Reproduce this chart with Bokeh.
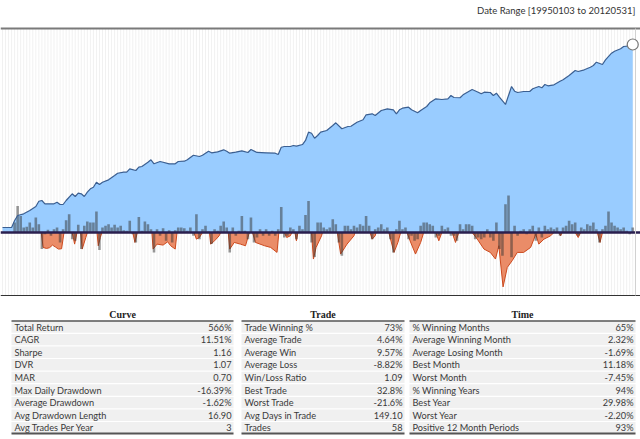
from bokeh.plotting import figure
from bokeh.models import Range1d, LinearScale
from bokeh.layouts import column
from bokeh.core.properties import value
from bokeh.embed import file_html
from bokeh.resources import INLINE

# ---------------- data ----------------
DATE_RANGE = "Date Range [19950103 to 20120531]"

# month index 0 = Jan 1995 ... 208 = May 2012
months = list(range(209))

# equity curve (growth of 1), read at selected months
eq_m = [0, 3, 4, 5, 7, 9, 11, 12, 13, 14,
        17, 18, 19, 20, 21, 23, 24, 25, 26, 27,
        28, 29, 30, 31, 32, 33, 35, 37, 38, 40,
        41, 42, 44, 45, 46, 48, 49, 50, 52, 53,
        55, 57, 58, 60, 61, 63, 65, 66, 68, 69,
        71, 73, 74, 75, 77, 79, 81, 82, 84, 87,
        90, 91, 92, 93, 95, 96, 97, 99, 100, 101,
        102, 103, 104, 105, 107, 109, 110, 112, 114, 115,
        117, 119, 120, 122, 123, 125, 127, 129, 130, 131,
        132, 134, 135, 137, 138, 140, 141, 143, 145, 147,
        148, 149, 151, 152, 155, 157, 158, 159, 161, 162,
        163, 164, 166, 167, 168, 169, 170, 172, 174, 175,
        177, 178, 179, 180, 182, 184, 185, 187, 189, 190,
        192, 194, 195, 196, 198, 199, 201, 202, 204, 205,
        207, 208]
eq_v = [1.00, 1.00, 1.075, 1.132, 1.152, 1.193, 1.243, 1.313, 1.323, 1.278,
        1.278, 1.300, 1.269, 1.269, 1.323, 1.418, 1.379, 1.427, 1.418, 1.379,
        1.442, 1.493, 1.518, 1.599, 1.561, 1.599, 1.639, 1.714, 1.755, 1.774,
        1.774, 1.837, 1.805, 1.868, 1.882, 1.967, 2.017, 1.935, 1.982, 1.967,
        1.935, 1.935, 1.982, 1.988, 2.017, 2.115, 2.087, 2.115, 2.205, 2.168,
        2.191, 2.237, 2.205, 2.160, 2.182, 2.214, 2.176, 2.244, 2.176, 2.168,
        2.160, 2.131, 2.298, 2.315, 2.315, 2.339, 2.323, 2.363, 2.464, 2.685,
        2.657, 2.523, 2.594, 2.685, 2.732, 2.878, 2.959, 2.781, 2.848, 2.856,
        2.978, 3.053, 3.215, 3.249, 3.192, 3.362, 3.421, 3.386, 3.249, 3.386,
        3.443, 3.479, 3.386, 3.283, 3.362, 3.504, 3.641, 3.795, 3.767, 3.795,
        3.927, 3.846, 3.836, 3.955, 4.179, 4.064, 3.996, 4.064, 4.051, 3.927,
        4.022, 3.858, 3.578, 3.927, 4.311, 4.106, 4.051, 4.093, 4.093, 4.209,
        4.311, 4.254, 4.401, 4.342, 4.387, 4.554, 4.621, 4.831, 5.088, 5.037,
        5.125, 5.265, 5.360, 5.546, 5.414, 5.684, 6.087, 6.215, 6.372, 6.526,
        6.572, 6.66]

# monthly returns, %
monthly_ret = [
    0, 0, 0, 0, 3.0, 8.0, 5.0, 1.5, 1.7, 3.0,
    1.5, 4.5, 2.5, -5.0, -0.5, 0.8, -1.0, 1.0, 1.5, -3.0,
    1.0, 3.7, 5.5, -2.0, -2.5, 2.3, -5.0, 2.0, 3.3, 3.0,
    3.0, 6.3, -5.3, 1.5, 2.0, 2.5, 1.5, 2.3, 1.5, 2.0,
    0.7, 0.5, 3.5, -0.5, -3.0, 4.7, 0.5, 3.3, 2.5, 1.0,
    -6.0, 1.0, -1.0, 1.3, -2.5, 0.7, -3.0, 0.7, 1.5, 1.5,
    1.3, 0.5, 1.5, -1.0, 5.5, -2.0, 1.0, 2.0, 0.3, -3.5,
    1.0, 0.5, 2.0, 3.3, 1.5, -6.0, 1.5, -1.0, 0.5, 5.0,
    0.5, -2.0, 4.5, -3.0, -1.5, 1.0, -1.0, 1.0, -1.0, 0.5,
    -1.0, 1.0, 7.7, -1.5, -1.0, 1.5, 1.0, -2.0, 2.0, 1.0,
    5.3, 9.5, -3.0, -7.4, 3.0, 3.0, 1.5, 1.0, 1.5, 4.0,
    2.5, -3.0, -7.0, 2.0, 2.0, 1.0, 2.0, 1.5, 2.5, 2.0,
    5.0, 2.0, -2.0, 1.0, 1.5, 2.5, 1.0, 1.5, -2.0, -6.0,
    1.0, 3.5, 1.0, 1.5, -2.0, -1.0, -2.5, -2.0, 2.0, 3.0,
    3.0, 2.5, 2.0, -1.5, -1.0, 2.0, 1.0, 1.5, -1.0, -1.0,
    -2.5, 2.5, 1.0, 2.5, 2.5, 2.0, -2.0, -1.5, -2.0, -1.5,
    1.0, -1.5, -2.5, 3.0, -5.0, -7.0, 8.5, 11.18, -7.45, 2.0,
    -1.0, 0.5, 1.0, -0.5, 1.0, 2.0, -2.5, 1.5, -1.5, 2.0,
    1.0, 1.5, 1.0, 1.5, -1.0, 1.5, 2.0, 3.5, 2.5, 3.0,
    -1.0, 1.5, 1.0, 2.5, 2.0, 3.0, 1.0, -3.0, 1.0, 2.0,
    6.3, 3.0, 2.0, 1.5, 1.0, 1.5, 0.5, -0.5, 1.5]

# drawdown, %
dd_m = [0, 12.8, 13.4, 14.5, 15.5, 16.5, 17.5, 18.5, 19.5, 20.3,
        23, 23.8, 24.6,
        25.8, 26.3, 27.5, 28,
        31.2, 31.6, 32.3, 32.8,
        43, 43.7, 44.5,
        49.3, 49.7, 51, 53, 54.5, 55.5, 57, 57.6,
        63.2, 64, 65, 66,
        68.3, 68.7, 70, 71.5, 72,
        74.5, 75, 76.5, 78.5, 80.2, 81.3, 81.6,
        82.5, 83.5, 86.5, 88.5, 90.6, 91.2,
        93, 93.8, 95, 95.5,
        96.5, 97, 97.5,
        102, 102.6, 103.5, 105.3, 105.6,
        110.5, 111.6, 113.7, 116, 116.3,
        121.3, 122, 123, 123.3,
        127.5, 129.2, 130.5, 131.4,
        133.5, 134.5, 136.3, 138, 139,
        143, 144, 145,
        148.4, 149.5, 150.6,
        155, 156.7, 158.9, 161, 162.7, 163.8, 165.2, 166.6, 168.2, 169.9,
        172, 174.3, 176, 177, 178.7, 180.9, 182,
        183.6, 184.2, 184.7,
        189, 190, 190.8,
        196.3, 197.2, 198,
        208]
dd_v = [0, 0, -4.5, -4.8, -4.6, -3.8, -4.4, -5.0, -4.9, 0,
        0, -3.5, 0,
        0, -5.0, -1.5, 0,
        0, -4.0, -1.5, 0,
        0, -3.0, 0,
        0, -5.0, -3.5, -3.8, -2.8, -4.0, -5.0, 0,
        0, -2.0, -1.5, 0,
        0, -3.5, -2.5, -1.0, 0,
        0, -5.0, -3.0, -3.5, -4.0, -0.5, 0,
        0, -3.0, -4.0, -4.5, -6.0, 0,
        0, -1.5, -1.0, 0,
        0, -2.5, 0,
        0, -8.0, -4.5, -1.0, 0,
        0, -6.5, -3.5, -1.0, 0,
        0, -2.0, -1.0, 0,
        0, -6.0, -3.0, 0,
        0, -2.5, -6.5, -3.0, 0,
        0, -2.5, 0,
        0, -3.0, 0,
        0, -2.0, -5.0, -6.0, -8.0, -4.0, -16.39, -10.5, -8.5, -6.0,
        -6.0, -4.5, -0.5, -3.5, -2.0, -1.0, 0,
        0, -1.0, 0,
        0, -1.5, 0,
        0, -3.0, 0,
        0]

curve_title = "Curve"
curve_labels = ["Total Return", "CAGR", "Sharpe", "DVR", "MAR", "Max Daily Drawdown",
                "Average Drawdown", "Avg Drawdown Length", "Avg Trades Per Year"]
curve_values = ["566%", "11.51%", "1.16", "1.07", "0.70", "-16.39%", "-1.62%", "16.90", "3"]
trade_title = "Trade"
trade_labels = ["Trade Winning %", "Average Trade", "Average Win", "Average Loss",
                "Win/Loss Ratio", "Best Trade", "Worst Trade", "Avg Days in Trade", "Trades"]
trade_values = ["73%", "4.64%", "9.57%", "-8.82%", "1.09", "32.8%", "-21.6%", "149.10", "58"]
time_title = "Time"
time_labels = ["% Winning Months", "Average Winning Month", "Average Losing Month", "Best Month",
               "Worst Month", "% Winning Years", "Best Year", "Worst Year",
               "Positive 12 Month Periods"]
time_values = ["65%", "2.32%", "-1.69%", "11.18%", "-7.45%", "94%", "29.98%", "-2.20%", "93%"]

# ---------------- style / layout ----------------
W = 640
FONT = value("Lato")
EQ_BASE = 0.9495      # equity level drawn at the zero-return line
TOP_LINE = 61.45      # return-axis level of the frame's top rule
BOT_LINE = -18.98     # return-axis level of the frame's bottom rule
X_EDGE = 208.9

p = figure(width=W, height=296, output_backend="svg", toolbar_location=None,
           x_range=Range1d(-0.66, 210.56), y_range=Range1d(0.4892, 10.51),
           y_axis_type="log", x_axis_location=None, y_axis_location=None,
           min_border=0, min_border_left=0, min_border_right=0,
           min_border_top=0, min_border_bottom=0)
p.extra_y_ranges = {"ret": Range1d(-19.28, 69.88)}
p.extra_y_scales = {"ret": LinearScale()}
p.xgrid.visible = False
p.ygrid.visible = False
p.outline_line_color = None
p.background_fill_color = "white"
p.border_fill_color = "white"

# background stripes (one per month)
p.vbar(x=months, width=0.32, bottom=BOT_LINE, top=TOP_LINE, y_range_name="ret",
       fill_color="#f1f1f1", line_color=None)

# equity area
p.varea(x=eq_m, y1=EQ_BASE, y2=eq_v, fill_color="#99ccff")

# drawdown
p.varea(x=dd_m, y1=0, y2=dd_v, y_range_name="ret", fill_color="#ea8c68")
p.line(dd_m, dd_v, y_range_name="ret", line_color="#cc4a1e", line_width=1)

# monthly return bars
p.vbar(x=months, top=monthly_ret, bottom=0, width=0.85, y_range_name="ret",
       fill_color="#333333", fill_alpha=0.5, line_color=None)

# equity line
p.line(eq_m, eq_v, line_color="#3b5f91", line_width=1.2)

# rules
p.hspan(y=[0], y_range_name="ret", line_color="#2a1f4f", line_width=2.5)
p.hspan(y=[TOP_LINE], y_range_name="ret", line_color="#7a7a7a", line_width=2)
p.hspan(y=[BOT_LINE], y_range_name="ret", line_color="#333333", line_width=1)
p.segment(x0=[X_EDGE], y0=[BOT_LINE], x1=[X_EDGE], y1=[TOP_LINE], y_range_name="ret",
          line_color="#d0d0d0", line_width=1)

# end marker
p.scatter(x=[eq_m[-1]], y=[eq_v[-1]], size=11, fill_color="white",
          line_color="#777777", line_width=1.2)

# date range text
p.text(x=[X_EDGE], y=[66.9], text=[DATE_RANGE], y_range_name="ret",
       text_align="right", text_baseline="middle", text_font=FONT,
       text_font_size="9.5px", text_color="#333333")

# ---------------- tables ----------------
t = figure(width=W, height=143, output_backend="svg", toolbar_location=None,
           x_range=Range1d(0, 640), y_range=Range1d(439, 296),
           x_axis_location=None, y_axis_location=None,
           min_border=0, min_border_left=0, min_border_right=0,
           min_border_top=0, min_border_bottom=0)
t.xgrid.visible = False
t.ygrid.visible = False
t.outline_line_color = None

TABLE_X = [(11, 233), (241, 404), (409, 635)]
HEADER_Y = 313.5
HEAD_RULE_Y = 320.5
ROW0_Y = 326.5
ROW_DY = 12.6
BOTTOM_RULE_Y = 433

tables = [(curve_title, curve_labels, curve_values),
          (trade_title, trade_labels, trade_values),
          (time_title, time_labels, time_values)]

for (x0, x1), (title, labels, vals) in zip(TABLE_X, tables):
    n = len(labels)
    ys = [ROW0_Y + i * ROW_DY for i in range(n)]
    t.rect(x=[(x0 + x1) / 2] * n, y=ys, width=x1 - x0, height=ROW_DY - 1.2,
           fill_color="#f0f0f0", line_color=None)
    t.text(x=[x0 + 3] * n, y=ys, text=labels, text_align="left", text_baseline="middle",
           text_font=FONT, text_font_size="9.2px", text_color="#3a3a3a")
    t.text(x=[x1 - 2] * n, y=ys, text=vals, text_align="right", text_baseline="middle",
           text_font=FONT, text_font_size="9.2px", text_color="#3a3a3a")
    t.text(x=[(x0 + x1) / 2], y=[HEADER_Y], text=[title], text_align="center",
           text_baseline="middle", text_font=value("Liberation Serif"),
           text_font_style="bold", text_font_size="10px", text_color="#222222")
    t.segment(x0=[x0], y0=[HEAD_RULE_Y], x1=[x1], y1=[HEAD_RULE_Y],
              line_color="#555555", line_width=1.5)
    t.segment(x0=[x0], y0=[BOTTOM_RULE_Y], x1=[x1], y1=[BOTTOM_RULE_Y],
              line_color="#555555", line_width=2)

layout = column(p, t, spacing=0)
open("out.html", "w").write(file_html(layout, INLINE))
